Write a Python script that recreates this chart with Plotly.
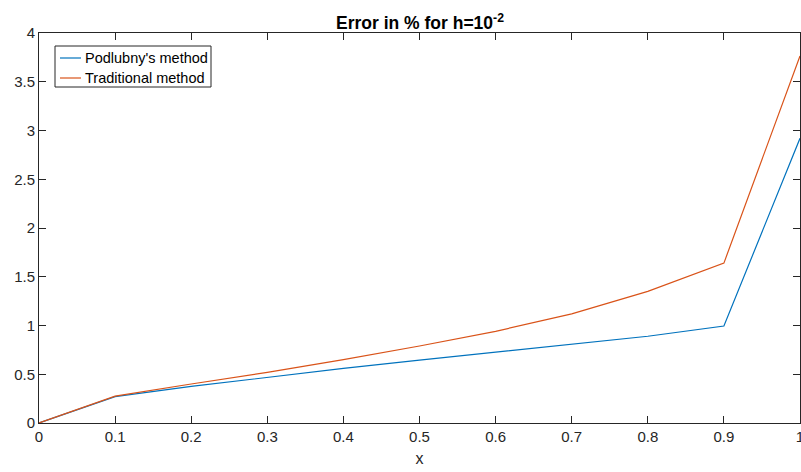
import plotly.graph_objects as go

x = [0, 0.1, 0.2, 0.3, 0.4, 0.5, 0.6, 0.7, 0.8, 0.9, 1.0]
podlubny = [0, 0.27, 0.375, 0.47, 0.56, 0.645, 0.725, 0.805, 0.89, 0.995, 2.92]
traditional = [0, 0.275, 0.40, 0.52, 0.65, 0.79, 0.94, 1.12, 1.35, 1.64, 3.765]
xticks = [0, 0.1, 0.2, 0.3, 0.4, 0.5, 0.6, 0.7, 0.8, 0.9, 1]
xticklabels = ["0", "0.1", "0.2", "0.3", "0.4", "0.5", "0.6", "0.7", "0.8", "0.9", "1"]
yticks = [0, 0.5, 1, 1.5, 2, 2.5, 3, 3.5, 4]
yticklabels = ["0", "0.5", "1", "1.5", "2", "2.5", "3", "3.5", "4"]
series_names = ["Podlubny's method", "Traditional method"]
series_colors = ["#0072BD", "#D95319"]

font = "Liberation Sans, Arial, Helvetica, sans-serif"
axcol = "#262626"

W, H = 801, 472
L, R, T, B = 39, 1, 33, 49
PW, PH = W - L - R, H - T - B


def px(xp):
    return (xp - L) / PW


def py(yp):
    return (H - B - yp) / PH


fig = go.Figure()
for name, vals, col in zip(series_names, [podlubny, traditional], series_colors):
    fig.add_trace(go.Scatter(x=x, y=vals, mode="lines", name=name,
                             line=dict(color=col, width=1.2), showlegend=False))

axis_common = dict(showline=True, linecolor=axcol, linewidth=1, mirror="ticks",
                   ticks="inside", ticklen=7, tickcolor=axcol, tickwidth=1,
                   showgrid=False, zeroline=False, ticklabeloverflow="allow",
                   automargin=False,
                   tickfont=dict(family=font, size=15, color=axcol))

# manual legend (box, line samples, labels)
shapes = [dict(type="rect", xref="paper", yref="paper",
               x0=px(55), x1=px(211), y0=py(87), y1=py(46),
               line=dict(color=axcol, width=1), fillcolor="white", layer="above")]
annotations = []
for i, (name, col) in enumerate(zip(series_names, series_colors)):
    yc = 58 + 20 * i
    shapes.append(dict(type="line", xref="paper", yref="paper",
                       x0=px(60), x1=px(81), y0=py(yc), y1=py(yc),
                       line=dict(color=col, width=1.2), layer="above"))
    annotations.append(dict(text=name, xref="paper", yref="paper",
                            x=px(83), y=py(yc), xanchor="left", yanchor="middle",
                            showarrow=False,
                            font=dict(family=font, size=14.5, color="black")))

fig.update_layout(
    width=W, height=H,
    margin=dict(l=L, r=R, t=T, b=B, autoexpand=False),
    paper_bgcolor="white", plot_bgcolor="white",
    font=dict(family=font, color=axcol),
    title=dict(text="<b>Error in % for h=10<sup>-2</sup></b>", x=(420) / W, xanchor="center",
               y=1 - 29 / H, yanchor="bottom", yref="container",
               font=dict(family=font, size=17.5, color="black")),
    xaxis=dict(range=[0, 1], tickvals=xticks, ticktext=xticklabels,
               title=dict(text="x", standoff=8, font=dict(family=font, size=16, color=axcol)),
               **axis_common),
    yaxis=dict(range=[0, 4], tickvals=yticks, ticktext=yticklabels, **axis_common),
    shapes=shapes,
    annotations=annotations,
    showlegend=False,
)

fig.write_html("out.html")
